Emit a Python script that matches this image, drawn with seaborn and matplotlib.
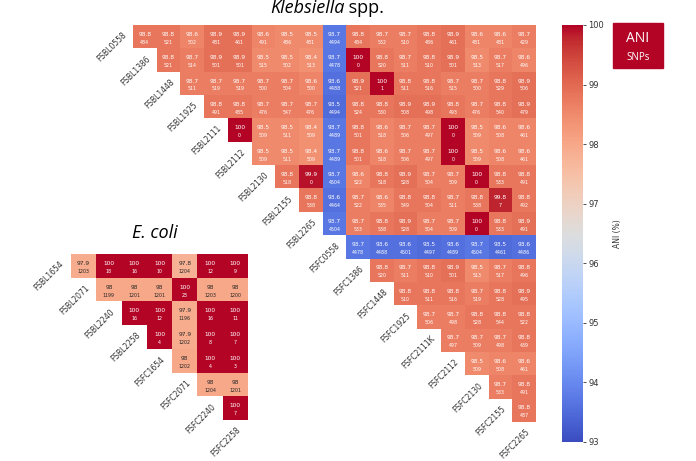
import numpy as np
import pandas as pd
import matplotlib
matplotlib.use('Agg')
import matplotlib.pyplot as plt
import seaborn as sns
from matplotlib.patches import Rectangle
from seaborn.utils import relative_luminance

# strain names (row i compares label i with the labels after it)
kleb_labels = ['FSBL0558', 'FSBL1386', 'FSBL1448', 'FSBL1925', 'FSBL2111', 'FSBL2112',
               'FSBL2130', 'FSBL2155', 'FSBL2265', 'FSFC0558', 'FSFC1386', 'FSFC1448',
               'FSFC1925', 'FSFC2111K', 'FSFC2112', 'FSFC2130', 'FSFC2155', 'FSFC2265']

kleb_ani = [
    [98.8, 98.8, 98.6, 98.9, 98.9, 98.6, 98.5, 98.5, 93.7, 98.8, 98.7, 98.7, 98.8, 98.9, 98.6, 98.6, 98.7],
    [98.8, 98.7, 98.9, 98.9, 98.5, 98.5, 98.4, 93.7, 100, 98.8, 98.7, 98.8, 98.9, 98.5, 98.7, 98.6],
    [98.7, 98.7, 98.7, 98.7, 98.7, 98.6, 93.6, 98.9, 100, 98.8, 98.8, 98.7, 98.7, 98.8, 98.9],
    [98.8, 98.8, 98.7, 98.7, 98.7, 93.5, 98.8, 98.8, 98.9, 98.9, 98.8, 98.7, 98.8, 98.9],
    [100, 98.5, 98.5, 98.4, 93.7, 98.8, 98.6, 98.7, 98.7, 100, 98.5, 98.6, 98.6],
    [98.5, 98.5, 98.4, 93.7, 98.8, 98.6, 98.7, 98.7, 100, 98.5, 98.6, 98.6],
    [98.8, 99.9, 93.7, 98.6, 98.8, 98.9, 98.7, 98.7, 100, 98.8, 98.8],
    [98.8, 93.6, 98.7, 98.6, 98.8, 98.8, 98.7, 98.8, 99.8, 98.8],
    [93.7, 98.7, 98.8, 98.9, 98.7, 98.7, 100, 98.8, 98.9],
    [93.7, 93.6, 93.6, 93.5, 93.6, 93.7, 93.5, 93.6],
    [98.8, 98.7, 98.8, 98.9, 98.5, 98.7, 98.8],
    [98.8, 98.8, 98.8, 98.7, 98.8, 98.9],
    [98.7, 98.7, 98.8, 98.8, 98.8],
    [98.7, 98.7, 98.7, 98.8],
    [98.5, 98.6, 98.6],
    [98.7, 98.8],
    [98.8],
]

kleb_snp = [
    [484, 521, 502, 481, 461, 491, 486, 481, 4494, 484, 532, 510, 486, 461, 481, 481, 429],
    [521, 514, 501, 501, 515, 502, 513, 4478, 0, 520, 511, 510, 501, 513, 517, 496],
    [511, 519, 519, 500, 504, 500, 4488, 521, 1, 511, 516, 515, 500, 529, 506],
    [491, 485, 476, 547, 476, 4494, 524, 530, 508, 498, 493, 476, 540, 479],
    [0, 509, 511, 509, 4489, 501, 518, 506, 497, 0, 509, 508, 461],
    [509, 511, 509, 4489, 501, 518, 506, 497, 0, 509, 508, 461],
    [518, 0, 4504, 522, 518, 528, 504, 509, 0, 533, 491],
    [538, 4464, 522, 535, 549, 504, 511, 538, 7, 492],
    [4504, 533, 538, 528, 504, 509, 0, 533, 491],
    [4478, 4488, 4501, 4497, 4489, 4504, 4461, 4486],
    [520, 511, 510, 501, 513, 517, 496],
    [510, 511, 516, 519, 528, 495],
    [506, 498, 528, 544, 522],
    [497, 509, 498, 439],
    [509, 508, 461],
    [533, 491],
    [487],
]

ecoli_labels = ['FSBL1654', 'FSBL2071', 'FSBL2240', 'FSBL2258',
                'FSFC1654', 'FSFC2071', 'FSFC2240', 'FSFC2258']

ecoli_ani = [
    [97.9, 100, 100, 100, 97.8, 100, 100],
    [98, 98, 98, 100, 98, 98],
    [100, 100, 97.9, 100, 100],
    [100, 97.9, 100, 100],
    [98, 100, 100],
    [98, 98],
    [100],
]

ecoli_snp = [
    [1203, 18, 16, 10, 1204, 12, 9],
    [1199, 1201, 1201, 23, 1203, 1200],
    [16, 12, 1196, 16, 11],
    [4, 1202, 8, 7],
    [1202, 4, 3],
    [1204, 1201],
    [7],
]

cmap = plt.get_cmap('coolwarm')
vmin, vmax = 93, 100


def to_frame(rows, labels):
    # ragged upper triangle -> square frame with NaN below the diagonal
    n = len(labels) - 1
    m = np.full((n, n), np.nan)
    for i, row in enumerate(rows):
        m[i, i:i + len(row)] = row
    return pd.DataFrame(m, index=labels[:-1], columns=labels[1:])


def tri_heatmap(ax, ani, snp, labels, cbar_ax=None):
    df = to_frame(ani, labels)
    snps = to_frame(snp, labels).values
    sns.heatmap(df, ax=ax, cmap=cmap, vmin=vmin, vmax=vmax, mask=df.isna(),
                cbar=cbar_ax is not None, cbar_ax=cbar_ax,
                cbar_kws={'label': 'ANI (%)'} if cbar_ax is not None else None,
                xticklabels=False, yticklabels=False)
    n = df.shape[0]
    for i in range(n):
        for j in range(n):
            v = df.values[i, j]
            if np.isnan(v):
                continue
            lum = relative_luminance(cmap((v - vmin) / (vmax - vmin)))
            c = '.15' if lum > .408 else 'w'
            ax.text(j + 0.5, i + 0.40, f'{v:g}', ha='center', va='center',
                    fontsize=4.2, color=c)
            ax.text(j + 0.5, i + 0.74, f'{int(snps[i, j])}', ha='center', va='center',
                    fontsize=3.4, color=c)
    # strain names run down the diagonal
    for i, lab in enumerate(labels):
        ax.text(i - 0.33, i + 0.38, lab, rotation=45, ha='right', va='center',
                rotation_mode='anchor', fontsize=5.5, color='#333333')


W, H = 696, 461
fig = plt.figure(figsize=(W / 100, H / 100), dpi=100)


def px_axes(x0, y0, x1, y1):
    return fig.add_axes([x0 / W, 1 - y1 / H, (x1 - x0) / W, (y1 - y0) / H])


ax_k = px_axes(133, 25, 536, 422)
ax_e = px_axes(71, 254, 248, 420)
cax = px_axes(562, 25, 583, 442)

tri_heatmap(ax_k, kleb_ani, kleb_snp, kleb_labels, cbar_ax=cax)
tri_heatmap(ax_e, ecoli_ani, ecoli_snp, ecoli_labels)

cax.tick_params(labelsize=6, length=2.5, width=0.6, pad=1.5, colors='#333333')
cax.set_ylabel('ANI (%)', fontsize=5.5, labelpad=6, color='#333333')

# titles
t1 = fig.text(270 / W, 1 - 8 / H, 'Klebsiella', fontsize=13, style='italic',
              ha='left', va='center', family='Open Sans')
ax_k.annotate(' spp.', xy=(1, 0), xycoords=t1, ha='left', va='bottom',
              fontsize=13, family='Open Sans', annotation_clip=False)
fig.text(155 / W, 1 - 233 / H, 'E. coli', fontsize=13, style='italic',
         ha='center', va='center', family='Open Sans')

# ANI / SNPs key
fig.patches.append(Rectangle((613 / W, 1 - 68 / H), 50 / W, 45 / H,
                             transform=fig.transFigure, color='#b40426', zorder=5))
fig.text(638 / W, 1 - 38 / H, 'ANI', color='w', fontsize=10, ha='center', va='center',
         family='Open Sans', zorder=6)
fig.text(638 / W, 1 - 57 / H, 'SNPs', color='w', fontsize=7, ha='center', va='center',
         family='Open Sans', zorder=6)

fig.savefig('out.png', dpi=100)
